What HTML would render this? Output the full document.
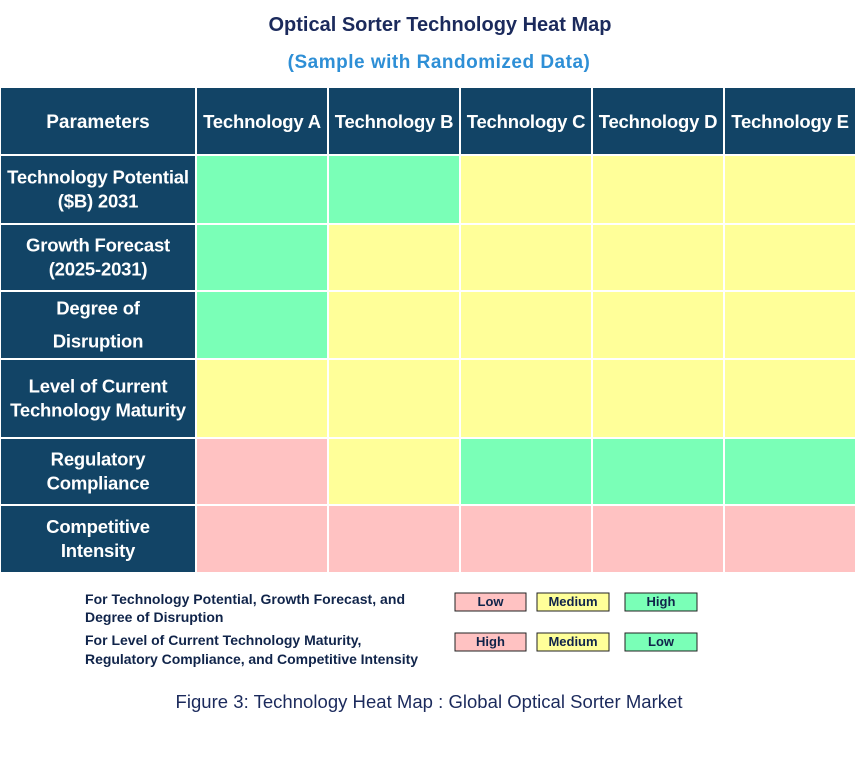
<!DOCTYPE html>
<html><head><meta charset="utf-8"><style>
body{margin:0;background:#fff;width:859px;height:763px;overflow:hidden;font-family:"Liberation Sans",Arial,sans-serif}
</style></head><body>
<svg id="chart" width="859" height="763" xmlns="http://www.w3.org/2000/svg" font-family="Liberation Sans, Arial, sans-serif">
<text x="440" y="31" text-anchor="middle" font-size="20" font-weight="bold" fill="#1b2a5c">Optical Sorter Technology Heat Map</text>
<text x="439" y="68" text-anchor="middle" font-size="19" font-weight="bold" fill="#2e8fd6" letter-spacing="0.5">(Sample with Randomized Data)</text>
<g id="grid"></g>
<g font-weight="bold" fill="#10244a">
<text x="85" y="604" font-size="14" fill="#10244a" textLength="320">For Technology Potential, Growth Forecast, and</text>
<text x="85" y="622" font-size="14" fill="#10244a">Degree of Disruption</text>
<text x="85" y="645" font-size="14" fill="#10244a">For Level of Current Technology Maturity,</text>
<text x="85" y="664" font-size="14" fill="#10244a" textLength="333">Regulatory Compliance, and Competitive Intensity</text>
</g>
<g id="legendboxes"></g>
<text x="429" y="708" text-anchor="middle" font-size="18.5" fill="#1b2a5c" textLength="507">Figure 3: Technology Heat Map :  Global Optical Sorter Market</text>
</svg>
<script>
const technologies=["Technology A","Technology B","Technology C","Technology D","Technology E"];
const parameters=[["Technology Potential","($B) 2031"],["Growth Forecast","(2025-2031)"],["Degree of","Disruption"],["Level of Current","Technology Maturity"],["Regulatory","Compliance"],["Competitive","Intensity"]];
// 0 = pink, 1 = yellow, 2 = green
const row0=[2,2,1,1,1];
const row1=[2,1,1,1,1];
const row2=[2,1,1,1,1];
const row3=[1,1,1,1,1];
const row4=[0,1,2,2,2];
const row5=[0,0,0,0,0];
const values=[row0,row1,row2,row3,row4,row5];
const colors=["#ffc2c2","#ffff99","#7affb7"];
const NS="http://www.w3.org/2000/svg";
const g=document.getElementById('grid');
const colX=[1,197,329,461,593,725,857];
const rowY=[156,225,292,360,439,506,574];
function mk(tag,attrs,parent){const e=document.createElementNS(NS,tag);for(const k in attrs)e.setAttribute(k,attrs[k]);parent.appendChild(e);return e;}
const FS=18.5;
let h=mk('rect',{x:1,y:88,width:194,height:66,fill:'#124466'},g);


let ht=mk('text',{x:98,y:128,'text-anchor':'middle','font-size':19,'font-weight':'bold',fill:'#fff'},g);ht.textContent='Parameters';


technologies.forEach((t,i)=>{
 const x=colX[i+1],w=colX[i+2]-x-2;
 const r=mk('rect',{x:x,y:88,width:w,height:66,fill:'#124466'},g);
 
 
 const tx=mk('text',{x:x+w/2,y:128,'text-anchor':'middle','font-size':FS,'font-weight':'bold',fill:'#fff','letter-spacing':'-0.2'},g);tx.textContent=t;
 
 
});
parameters.forEach((p,j)=>{
 const y=rowY[j],hh=rowY[j+1]-y-2;
 const r=mk('rect',{x:1,y:y,width:194,height:hh,fill:'#124466'},g);
 
 
 const gap=(j==2)?33:24;
 p.forEach((line,k)=>{
  const tx=mk('text',{x:98,y:y+hh/2+6+(k-0.5)*gap,'text-anchor':'middle','font-size':FS,'font-weight':'bold',fill:'#fff','letter-spacing':'-0.2'},g);tx.textContent=line;
  
  
 });
 values[j].forEach((v,i)=>{
  const x=colX[i+1],w=colX[i+2]-x-2;
  const c=mk('rect',{x:x,y:y,width:w,height:hh,fill:colors[v]},g);
  
  
 });
});
const lg=document.getElementById('legendboxes');
const legendLabels1=["Low","Medium","High"];
const legendLabels2=["High","Medium","Low"];
const lx=[455,537,625],lw=[71,72,72];
[[legendLabels1,593],[legendLabels2,633]].forEach(([labels,y])=>{
 labels.forEach((l,i)=>{
  const r=mk('rect',{x:lx[i],y:y,width:lw[i],height:18,fill:colors[i],stroke:'#222','stroke-width':1},lg);
  
  
  const t=mk('text',{x:lx[i]+lw[i]/2,y:y+13,'text-anchor':'middle','font-size':13,'font-weight':'bold',fill:'#10244a'},lg);t.textContent=l;
  
  
 });
});
</script>
</body></html>
